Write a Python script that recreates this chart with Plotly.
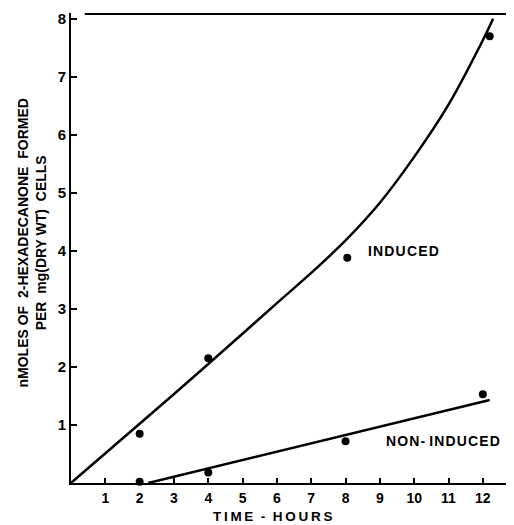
import plotly.graph_objects as go

# Observed data points
induced_x = [2, 4, 8.05, 12.2]
induced_y = [0.85, 2.15, 3.88, 7.7]
noninduced_x = [2, 4, 8, 12]
noninduced_y = [0.02, 0.18, 0.72, 1.53]

# Drawn curves
induced_curve_x = [0, 2, 4, 6, 7, 8, 9, 10, 11, 12, 12.3]
induced_curve_y = [0, 1.02, 2.05, 3.1, 3.62, 4.18, 4.83, 5.62, 6.52, 7.63, 8.0]
noninduced_curve_x = [2.25, 12.2]
noninduced_curve_y = [0.0, 1.43]

x_ticks = list(range(1, 13))
y_ticks = list(range(1, 9))

FONT = "Liberation Sans"


def spaced(s, sep="\u200a"):
    return sep.join(s)


fig = go.Figure()
fig.add_trace(go.Scatter(x=induced_curve_x, y=induced_curve_y, mode="lines",
                         line=dict(color="black", width=2.5, shape="spline", smoothing=0.8),
                         hoverinfo="skip", showlegend=False))
fig.add_trace(go.Scatter(x=noninduced_curve_x, y=noninduced_curve_y, mode="lines",
                         line=dict(color="black", width=2.5),
                         hoverinfo="skip", showlegend=False))
fig.add_trace(go.Scatter(x=induced_x, y=induced_y, mode="markers",
                         marker=dict(color="black", size=8), showlegend=False))
fig.add_trace(go.Scatter(x=noninduced_x, y=noninduced_y, mode="markers",
                         marker=dict(color="black", size=8), showlegend=False, cliponaxis=False))

fig.add_annotation(x=9.7, y=4.0, text="<b>" + spaced("INDUCED") + "</b>", showarrow=False,
                   font=dict(family=FONT, size=14, color="black"))
fig.add_annotation(x=10.85, y=0.72, text="<b>" + spaced("NON-") + " " + spaced("INDUCED") + "</b>",
                   showarrow=False, font=dict(family=FONT, size=14, color="black"))

# axis titles
fig.add_annotation(x=0.458, y=-0.0705, xref="paper", yref="paper", xanchor="center", yanchor="middle",
                   text="<b>" + spaced("TIME", "\u2009") + "  -  " + spaced("HOURS", "\u2009") + "</b>",
                   showarrow=False, font=dict(family=FONT, size=13.5, color="black"))
fig.add_annotation(x=-0.088, y=0.51, xref="paper", yref="paper", xanchor="center", yanchor="middle",
                   textangle=-90,
                   text="<b>nMOLES OF  2-HEXADECANONE  FORMED<br>PER  mg(DRY WT)  CELLS</b>",
                   showarrow=False, font=dict(family=FONT, size=14, color="black"))

# top frame line
fig.add_shape(type="line", x0=0.4, x1=12.75, y0=0.998, y1=0.998, xref="x", yref="paper",
              line=dict(color="black", width=2))

fig.update_layout(
    width=506, height=517,
    margin=dict(l=63, r=2, t=5, b=42, autoexpand=False),
    paper_bgcolor="white", plot_bgcolor="white",
    font=dict(family=FONT, color="black"),
    xaxis=dict(range=[0, 12.85], tickvals=x_ticks, ticktext=[f"<b>{v}</b>" for v in x_ticks],
               ticks="inside", ticklen=5, tickwidth=1.5, tickcolor="black",
               showline=True, linecolor="black", linewidth=2, showgrid=False, zeroline=False,
               tickfont=dict(family=FONT, size=14), automargin=False, ticklabelstandoff=1),
    yaxis=dict(range=[0, 8.1], tickvals=y_ticks, ticktext=[f"<b>{v}</b>" for v in y_ticks],
               ticks="inside", ticklen=6, tickwidth=1.5, tickcolor="black",
               showline=True, linecolor="black", linewidth=2, showgrid=False, zeroline=False,
               tickfont=dict(family=FONT, size=15), automargin=False),
)

fig.write_html("out.html")
